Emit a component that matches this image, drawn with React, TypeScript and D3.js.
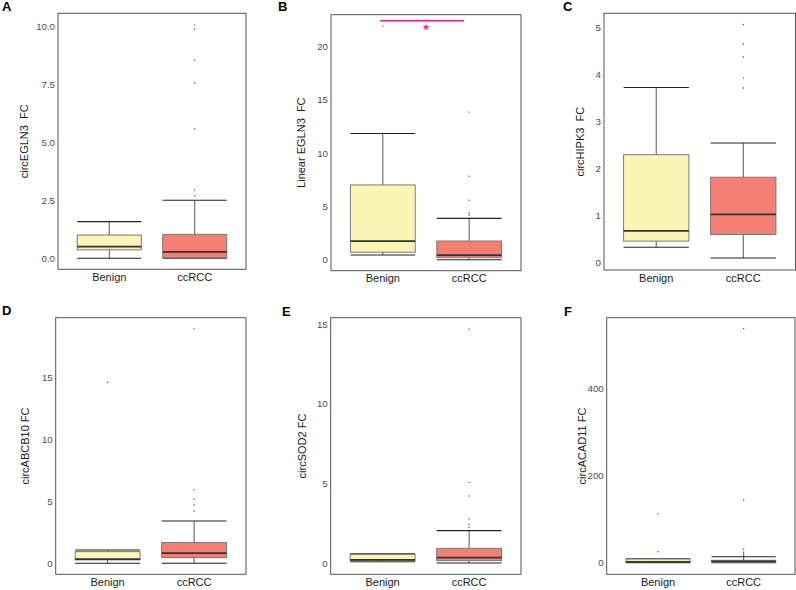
import React from 'react';
import * as d3 from 'd3';

const categories = ['Benign', 'ccRCC'];
const fillColors = ['#faf5b4', '#f47f72'];

// box stats per group: [lower whisker, Q1, median, Q3, upper whisker]
const boxA = [[0, 0.36, 0.5, 1.0, 1.58], [0, 0.02, 0.27, 1.03, 2.5]];
const outA = [[], [2.7, 2.95, 5.58, 7.57, 8.55, 9.9, 10.07]];
const boxB = [[0.47, 0.73, 1.77, 7.03, 11.85], [0.02, 0.25, 0.45, 1.78, 3.9]];
const outB = [[21.9], [4.2, 4.4, 5.6, 7.85, 13.85]];
const boxC = [[0.33, 0.46, 0.68, 2.3, 3.73], [0.1, 0.6, 1.03, 1.82, 2.55]];
const outC = [[], [3.72, 3.93, 4.38, 4.65, 5.07]];
const boxD = [[0, 0.27, 0.33, 0.94, 1.07], [0, 0.46, 0.81, 1.67, 3.41]];
const outD = [[14.6], [4.22, 4.7, 5.16, 5.94, 18.9]];
const boxE = [[0.1, 0.15, 0.22, 0.56, 0.6], [0.02, 0.17, 0.36, 0.94, 2.05]];
const outE = [[], [2.26, 2.45, 2.78, 4.23, 5.08, 14.7]];
const boxF = [[0, 0.5, 2, 8.5, 9], [0, 0.5, 3, 5.5, 13.7]];
const outF = [[25, 112], [17, 20, 24, 31, 144, 537]];

const ticksA = [0, 2.5, 5, 7.5, 10];
const ticksB = [0, 5, 10, 15, 20];
const ticksC = [0, 1, 2, 3, 4, 5];
const ticksD = [0, 5, 10, 15];
const ticksE = [0, 5, 10, 15];
const ticksF = [0, 200, 400];

const FONT = '"Liberation Sans", Arial, Helvetica, sans-serif';

const panels = [
  { letter: 'A', title: 'circEGLN3  FC', box: boxA, out: outA, ticks: ticksA, domain: [-0.48, 10.58], fmt: d3.format('.1f'),
    frame: { l: 58, t: 13.3, r: 246, b: 269.3 }, lx: 2, ly: 11, tx: -30 },
  { letter: 'B', title: 'Linear EGLN3  FC', box: boxB, out: outB, ticks: ticksB, domain: [-1.0, 22.97], fmt: d3.format('d'),
    frame: { l: 331, t: 14.7, r: 521, b: 270.7 }, lx: 278, ly: 11, tx: -26, signif: { y: 22.4, star: 21.8 } },
  { letter: 'C', title: 'circHIPK3  FC', box: boxC, out: outC, ticks: ticksC, domain: [-0.155, 5.31], fmt: d3.format('d'),
    frame: { l: 604, t: 13.3, r: 795.5, b: 270 }, lx: 563, ly: 11, tx: -20 },
  { letter: 'D', title: 'circABCB10 FC', box: boxD, out: outD, ticks: ticksD, domain: [-0.89, 19.8], fmt: d3.format('d'),
    frame: { l: 55.7, t: 317.7, r: 246, b: 574.3 }, lx: 2, ly: 315, tx: -27 },
  { letter: 'E', title: 'circSOD2 FC', box: boxE, out: outE, ticks: ticksE, domain: [-0.69, 15.42], fmt: d3.format('d'),
    frame: { l: 330.7, t: 317.7, r: 521, b: 574.3 }, lx: 282, ly: 316, tx: -25 },
  { letter: 'F', title: 'circACAD11 FC', box: boxF, out: outF, ticks: ticksF, domain: [-26.6, 562], fmt: d3.format('d'),
    frame: { l: 606.7, t: 317.7, r: 795, b: 574.3 }, lx: 564, ly: 316, tx: -21 },
];

function Panel({ p }: { p: any }) {
  const f = p.frame;
  const x = d3.scaleLinear().domain([0.4, 2.6]).range([f.l, f.r]);
  const y = d3.scaleLinear().domain(p.domain).range([f.b, f.t]);
  const hw = x(0.375) - x(0);
  const star = d3.symbol().type(d3.symbolStar).size(14)();

  return (
    <g>
      <text x={p.lx} y={p.ly} fontSize={13} fontWeight="bold" fill="#000">{p.letter}</text>
      {p.box.map((s: number[], i: number) => {
        const cx = x(i + 1);
        return (
          <g key={i}>
            <line x1={cx} x2={cx} y1={y(s[0])} y2={y(s[1])} stroke="#555" strokeWidth={1} />
            <line x1={cx} x2={cx} y1={y(s[3])} y2={y(s[4])} stroke="#555" strokeWidth={1} />
            <line x1={cx - hw} x2={cx + hw} y1={y(s[0])} y2={y(s[0])} stroke="#222" strokeWidth={1.1} />
            <line x1={cx - hw} x2={cx + hw} y1={y(s[4])} y2={y(s[4])} stroke="#222" strokeWidth={1.1} />
            <rect x={cx - hw} width={2 * hw} y={y(s[3])} height={y(s[1]) - y(s[3])}
              fill={fillColors[i]} stroke="#7a7a7a" strokeWidth={1} />
            <line x1={cx - hw} x2={cx + hw} y1={y(s[2])} y2={y(s[2])} stroke="#333" strokeWidth={1.8} />
            {p.out[i].map((v: number, j: number) => (
              <circle key={j} cx={cx} cy={y(v)} r={0.7} fill="#444" />
            ))}
          </g>
        );
      })}
      {p.signif && (
        <g>
          <line x1={x(0.97)} x2={x(1.94)} y1={y(p.signif.y)} y2={y(p.signif.y)} stroke="#ff1493" strokeWidth={1.5} />
          <path d={star as string} transform={`translate(${x(1.5)},${y(p.signif.star)})`} fill="#ff1493" />
        </g>
      )}
      <rect x={f.l} y={f.t} width={f.r - f.l} height={f.b - f.t} fill="none" stroke="#555" strokeWidth={1} />
      {p.ticks.map((t: number) => (
        <text key={t} x={f.l - 3} y={y(t)} dy="0.35em" textAnchor="end" fontSize={9.7} fill="#4d4d4d">{p.fmt(t)}</text>
      ))}
      {categories.map((c, i) => (
        <text key={c} x={x(i + 1)} y={f.b + 11.7} textAnchor="middle" fontSize={11} fill="#1a1a1a">{c}</text>
      ))}
      <text transform={`translate(${f.l + p.tx},${(f.t + f.b) / 2}) rotate(-90)`} textAnchor="middle"
        fontSize={11} fill="#1a1a1a" style={{ whiteSpace: 'pre' }}>{p.title}</text>
    </g>
  );
}

export default function App() {
  return (
    <svg width={796} height={590} style={{ position: 'absolute', left: 0, top: 0, background: '#fff' }}
      fontFamily={FONT}>
      <rect width={796} height={590} fill="#fff" />
      {panels.map(p => <Panel key={p.letter} p={p} />)}
    </svg>
  );
}
